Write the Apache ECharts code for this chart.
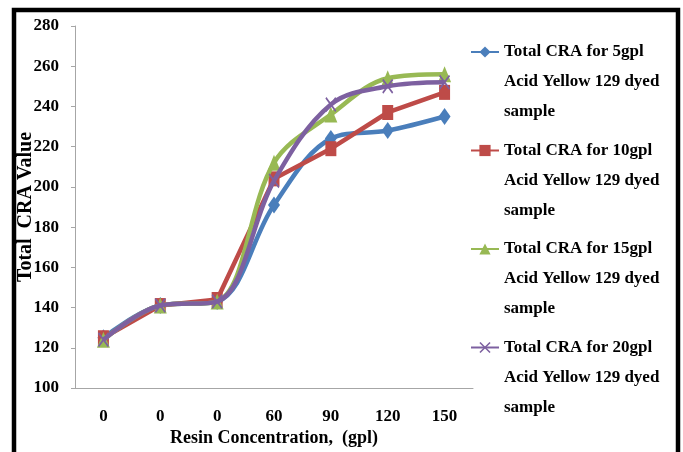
<!DOCTYPE html>
<html>
<head>
<meta charset="utf-8">
<script src="https://cdn.jsdelivr.net/npm/echarts@6/dist/echarts.min.js"></script>
<style>
  html, body { margin: 0; padding: 0; background: #fff; }
  #chart { width: 683px; height: 452px; }
</style>
</head>
<body>
<div id="chart"></div>
<script>
// ---- data ----
const categories = ['0', '0', '0', '60', '90', '120', '150'];
const seriesNames = [
  'Total CRA for 5gpl\nAcid Yellow 129 dyed\nsample',
  'Total CRA for 10gpl\nAcid Yellow 129 dyed\nsample',
  'Total CRA for 15gpl\nAcid Yellow 129 dyed\nsample',
  'Total CRA for 20gpl\nAcid Yellow 129 dyed\nsample'
];
const cra5gpl  = [125, 141, 143, 191, 224, 228, 235];
const cra10gpl = [125, 141, 144, 204, 219, 237, 247];
const cra15gpl = [124, 141, 143, 212, 236, 254, 256];
const cra20gpl = [124, 141, 143, 203, 241, 250, 252];
const yTicks = [100, 120, 140, 160, 180, 200, 220, 240, 260, 280];
const xAxisTitle = 'Resin Concentration,  (gpl)';
const yAxisTitle = 'Total  CRA Value';

// ---- styles ----
const FONT = '"Liberation Serif", "Times New Roman", serif';
const colors = ['#4A7EBB', '#BE4B48', '#98B954', '#7D60A0'];
const xPath = 'path://M1,0 L5,4 L9,0 L10,1 L6,5 L10,9 L9,10 L5,6 L1,10 L0,9 L4,5 L0,1 Z';
const symbols = ['diamond', 'rect', 'triangle', xPath];
const symbolSizes = [[12, 17], [11, 15], [13, 16], [11, 15]];
const smoothFlags = [0.35, false, 0.35, 0.35];
const dataSets = [cra5gpl, cra10gpl, cra15gpl, cra20gpl];

const chart = echarts.init(document.getElementById('chart'));
chart.setOption({
  animation: false,
  backgroundColor: '#ffffff',
  color: colors,
  grid: { left: 75, right: 210, top: 26, bottom: 64 },
  xAxis: {
    type: 'category',
    data: categories,
    boundaryGap: true,
    axisLine: { lineStyle: { color: '#A6A6A6', width: 1 } },
    axisTick: { show: false },
    axisLabel: { color: '#000', fontFamily: FONT, fontWeight: 'bold', fontSize: 17, margin: 20 },
    name: xAxisTitle,
    nameLocation: 'middle',
    nameGap: 41,
    nameMoveOverlap: false,
    nameTextStyle: { color: '#000', fontFamily: FONT, fontWeight: 'bold', fontSize: 18 }
  },
  yAxis: {
    type: 'value',
    min: yTicks[0],
    max: yTicks[yTicks.length - 1],
    interval: 20,
    splitLine: { show: false },
    axisLine: { show: true, lineStyle: { color: '#A6A6A6', width: 1 } },
    axisTick: { show: true, length: 4, lineStyle: { color: '#A6A6A6' } },
    axisLabel: { color: '#000', fontFamily: FONT, fontWeight: 'bold', fontSize: 17, margin: 16 },
    name: yAxisTitle,
    nameLocation: 'middle',
    nameRotate: 90,
    nameGap: 39,
    nameMoveOverlap: false,
    nameTextStyle: { color: '#000', fontFamily: FONT, fontWeight: 'bold', fontSize: 20 }
  },
  legend: {
    orient: 'vertical',
    left: 470,
    top: -23,
    padding: 0,
    itemGap: -51.5,
    itemWidth: 28,
    itemHeight: 14,
    data: seriesNames,
    formatter: name => '\n\n' + name,
    textStyle: {
      color: '#000', fontFamily: FONT, fontWeight: 'bold', fontSize: 17,
      lineHeight: 30
    }
  },
  graphic: [{
    type: 'rect',
    shape: { x: 14, y: 10, width: 664, height: 470 },
    style: { fill: 'none', stroke: '#000', lineWidth: 4.5 },
    silent: true,
    z: 100
  }],
  series: dataSets.map((d, i) => ({
    name: seriesNames[i],
    type: 'line',
    data: d,
    smooth: smoothFlags[i],
    symbol: symbols[i],
    symbolSize: symbolSizes[i],
    showSymbol: true,
    lineStyle: { width: 4.5, color: colors[i] },
    itemStyle: { color: colors[i] },
    z: 2 + i
  }))
});
</script>
</body>
</html>
